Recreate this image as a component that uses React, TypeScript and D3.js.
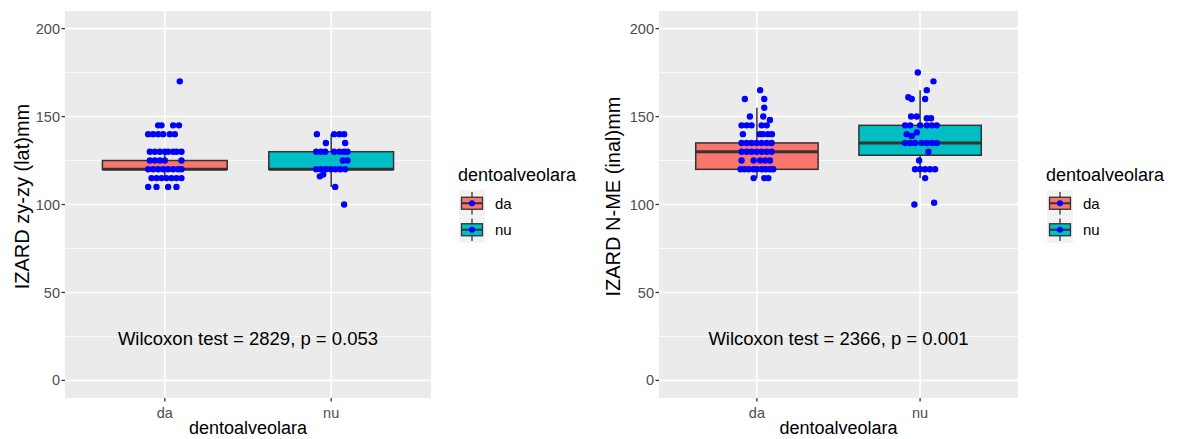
import React, { useEffect, useRef } from 'react';
import * as d3 from 'd3';

const categories = ['da', 'nu'];
const fillColors = ['#F8766D', '#00BFC4'];
const yTicks = [0, 50, 100, 150, 200];
const yMinorTicks = [25, 75, 125, 175];

// box summaries (left: zy-zy, right: N-ME)
const zyLower = [115, 110];
const zyQ1 = [120, 120];
const zyMedian = [120, 120];
const zyQ3 = [125, 130];
const zyUpper = [130, 140];

const nmeLower = [115, 115];
const nmeQ1 = [120, 128];
const nmeMedian = [130, 135];
const nmeQ3 = [135, 145];
const nmeUpper = [155, 165];

// jittered points: [value, horizontal jitter in category units]
const zyDaPoints: [number, number][] = [
  [170, 0.09],
  [145, -0.04], [145, -0.02], [145, 0.05], [145, 0.085],
  [140, -0.1], [140, -0.07], [140, -0.04], [140, -0.01], [140, 0.03], [140, 0.06],
  [130, -0.09], [130, -0.06], [130, -0.03], [130, 0.0], [130, 0.02], [130, 0.05], [130, 0.07], [130, 0.1],
  [125, -0.09], [125, -0.06], [125, -0.03], [125, 0.0], [125, 0.1],
  [120, -0.1], [120, -0.07], [120, -0.04], [120, -0.01], [120, 0.02], [120, 0.05], [120, 0.08], [120, 0.1],
  [115, -0.08], [115, -0.05], [115, -0.02], [115, 0.01], [115, 0.04], [115, 0.07], [115, 0.1],
  [110, -0.1], [110, -0.05], [110, 0.02], [110, 0.07],
];

const zyNuPoints: [number, number][] = [
  [140, -0.086], [140, 0.018], [140, 0.05], [140, 0.078],
  [135, -0.032], [135, 0.084],
  [130, -0.09], [130, -0.062], [130, -0.036], [130, 0.018], [130, 0.05], [130, 0.078], [130, 0.098],
  [125, 0.07], [125, 0.098],
  [120, -0.09], [120, -0.062], [120, -0.032], [120, -0.002], [120, 0.026], [120, 0.054], [120, 0.084],
  [116, -0.068], [117, -0.048],
  [110, 0.024],
  [100, 0.078],
];

const nmeDaPoints: [number, number][] = [
  [165, 0.02], [160, -0.074], [160, 0.045], [155, 0.045],
  [150, -0.043], [150, 0.039], [148, 0.08],
  [145, -0.094], [145, -0.063], [145, -0.033], [145, 0.029], [145, 0.06],
  [140, -0.086], [140, 0.018], [140, 0.037], [140, 0.067], [140, 0.092],
  [135, -0.094], [135, -0.063], [135, -0.033], [135, -0.002], [135, 0.029], [135, 0.06], [135, 0.09],
  [130, -0.094], [130, -0.063], [130, -0.033], [130, -0.002], [130, 0.029], [130, 0.06], [130, 0.09],
  [125, -0.094], [125, -0.02], [125, 0.02], [125, 0.05], [125, 0.08],
  [120, -0.1], [120, -0.075], [120, -0.05], [120, -0.02], [120, 0.0], [120, 0.03], [120, 0.055], [120, 0.08], [120, 0.1],
  [115, -0.02], [115, 0.045], [115, 0.07],
];

const nmeNuPoints: [number, number][] = [
  [175, -0.014], [170, 0.082], [165, 0.041], [161, -0.072], [160, -0.051], [160, 0.031],
  [150, -0.055], [150, -0.02], [149, 0.041], [149, 0.067],
  [145, -0.092], [145, -0.061], [145, 0.0], [145, 0.041], [145, 0.072], [145, 0.102],
  [140, -0.082], [139, -0.051], [141, -0.02],
  [135, -0.092], [135, -0.061], [135, -0.031], [135, 0.01], [135, 0.041], [135, 0.072], [135, 0.102],
  [130, 0.051],
  [125, -0.006],
  [120, -0.031], [120, 0.0], [120, 0.031], [120, 0.061], [120, 0.092],
  [115, 0.031],
  [100, -0.035], [101, 0.086],
];

const yTitles = ['IZARD zy-zy (lat)mm', 'IZARD N-ME (inal)mm'];
const testLabels = ['Wilcoxon test = 2829, p = 0.053', 'Wilcoxon test = 2366, p = 0.001'];
const xTitle = 'dentoalveolara';
const legendTitle = 'dentoalveolara';
const labelValue = 24;

const FONT = '"Liberation Sans", Arial, sans-serif';

export default function App() {
  const svgRef = useRef<SVGSVGElement>(null);

  useEffect(() => {
    if (!svgRef.current) return;
    const svg = d3.select(svgRef.current);
    svg.selectAll('*').remove();

    const panels = [
      {
        left: 65, right: 431, top: 11, bottom: 398, yTitleX: 22, legendX: 458,
        lower: zyLower, q1: zyQ1, median: zyMedian, q3: zyQ3, upper: zyUpper,
        points: [zyDaPoints, zyNuPoints], yTitle: yTitles[0], label: testLabels[0],
      },
      {
        left: 659, right: 1018, top: 11, bottom: 398, yTitleX: 613, legendX: 1046,
        lower: nmeLower, q1: nmeQ1, median: nmeMedian, q3: nmeQ3, upper: nmeUpper,
        points: [nmeDaPoints, nmeNuPoints], yTitle: yTitles[1], label: testLabels[1],
      },
    ];

    panels.forEach(p => {
      const g = svg.append('g');
      const x = d3.scaleLinear().domain([0.4, 2.6]).range([p.left, p.right]);
      const y = d3.scaleLinear().domain([-10, 210]).range([p.bottom, p.top]);

      // panel background
      g.append('rect')
        .attr('x', p.left).attr('y', p.top)
        .attr('width', p.right - p.left).attr('height', p.bottom - p.top)
        .attr('fill', '#EBEBEB');

      // grid lines
      g.selectAll('.minor').data(yMinorTicks).enter().append('line')
        .attr('x1', p.left).attr('x2', p.right)
        .attr('y1', d => y(d)).attr('y2', d => y(d))
        .attr('stroke', '#FFFFFF').attr('stroke-width', 0.8);
      g.selectAll('.major').data(yTicks).enter().append('line')
        .attr('x1', p.left).attr('x2', p.right)
        .attr('y1', d => y(d)).attr('y2', d => y(d))
        .attr('stroke', '#FFFFFF').attr('stroke-width', 1.6);
      g.selectAll('.vmajor').data(categories).enter().append('line')
        .attr('x1', (_, i) => x(i + 1)).attr('x2', (_, i) => x(i + 1))
        .attr('y1', p.top).attr('y2', p.bottom)
        .attr('stroke', '#FFFFFF').attr('stroke-width', 1.6);

      // boxplots
      categories.forEach((c, i) => {
        const cx = x(i + 1);
        const hw = x(1.375) - x(1);
        g.append('line')
          .attr('x1', cx).attr('x2', cx)
          .attr('y1', y(p.q3[i])).attr('y2', y(p.upper[i]))
          .attr('stroke', '#333333').attr('stroke-width', 1.5);
        g.append('line')
          .attr('x1', cx).attr('x2', cx)
          .attr('y1', y(p.q1[i])).attr('y2', y(p.lower[i]))
          .attr('stroke', '#333333').attr('stroke-width', 1.5);
        g.append('rect')
          .attr('x', cx - hw).attr('y', y(p.q3[i]))
          .attr('width', hw * 2).attr('height', y(p.q1[i]) - y(p.q3[i]))
          .attr('fill', fillColors[i])
          .attr('stroke', '#333333').attr('stroke-width', 1.5);
        g.append('line')
          .attr('x1', cx - hw).attr('x2', cx + hw)
          .attr('y1', y(p.median[i])).attr('y2', y(p.median[i]))
          .attr('stroke', '#333333').attr('stroke-width', 3);

        g.selectAll('.pt' + c).data(p.points[i]).enter().append('circle')
          .attr('cx', d => x(i + 1 + d[1]))
          .attr('cy', d => y(d[0]))
          .attr('r', 3.2)
          .attr('fill', '#0000FF');
      });

      // annotation
      g.append('text')
        .attr('x', (p.left + p.right) / 2).attr('y', y(labelValue))
        .attr('dy', '0.35em')
        .attr('text-anchor', 'middle')
        .attr('font-family', FONT).attr('font-size', 18.5)
        .attr('fill', '#000000')
        .text(p.label);

      // y axis
      g.selectAll('.ytick').data(yTicks).enter().append('line')
        .attr('x1', p.left - 3.5).attr('x2', p.left)
        .attr('y1', d => y(d)).attr('y2', d => y(d))
        .attr('stroke', '#333333').attr('stroke-width', 1.3);
      g.selectAll('.ylab').data(yTicks).enter().append('text')
        .attr('x', p.left - 5).attr('y', d => y(d))
        .attr('dy', '0.35em')
        .attr('text-anchor', 'end')
        .attr('font-family', FONT).attr('font-size', 14.5)
        .attr('fill', '#4D4D4D')
        .text(d => d);

      // x axis
      g.selectAll('.xtick').data(categories).enter().append('line')
        .attr('x1', (_, i) => x(i + 1)).attr('x2', (_, i) => x(i + 1))
        .attr('y1', p.bottom).attr('y2', p.bottom + 3.5)
        .attr('stroke', '#333333').attr('stroke-width', 1.3);
      g.selectAll('.xlab').data(categories).enter().append('text')
        .attr('x', (_, i) => x(i + 1)).attr('y', p.bottom + 20)
        .attr('text-anchor', 'middle')
        .attr('font-family', FONT).attr('font-size', 14.5)
        .attr('fill', '#4D4D4D')
        .text(d => d);

      g.append('text')
        .attr('x', (p.left + p.right) / 2).attr('y', 434)
        .attr('text-anchor', 'middle')
        .attr('font-family', FONT).attr('font-size', 18)
        .attr('fill', '#000000')
        .text(xTitle);

      g.append('text')
        .attr('transform', `translate(${p.yTitleX},${(p.top + p.bottom) / 2 - 8}) rotate(-90)`)
        .attr('dy', '0.35em')
        .attr('text-anchor', 'middle')
        .attr('font-family', FONT).attr('font-size', 20)
        .attr('fill', '#000000')
        .text(p.yTitle);

      // legend
      const lg = g.append('g').attr('transform', `translate(${p.legendX},0)`);
      lg.append('text')
        .attr('x', 0).attr('y', 181)
        .attr('font-family', FONT).attr('font-size', 18)
        .attr('fill', '#000000')
        .text(legendTitle);
      const keyH = 26.5;
      const keyTop = 190;
      categories.forEach((c, i) => {
        const ky = keyTop + i * keyH;
        const mid = ky + keyH / 2;
        lg.append('rect')
          .attr('x', 1).attr('y', ky).attr('width', 26).attr('height', keyH)
          .attr('fill', '#F2F2F2');
        lg.append('line')
          .attr('x1', 14).attr('x2', 14).attr('y1', ky + 2).attr('y2', ky + keyH - 2)
          .attr('stroke', '#333333').attr('stroke-width', 1.3);
        lg.append('rect')
          .attr('x', 3.5).attr('y', mid - 6).attr('width', 21).attr('height', 12)
          .attr('fill', fillColors[i])
          .attr('stroke', '#333333').attr('stroke-width', 1.3);
        lg.append('line')
          .attr('x1', 3.5).attr('x2', 24.5).attr('y1', mid).attr('y2', mid)
          .attr('stroke', '#333333').attr('stroke-width', 2);
        lg.append('circle')
          .attr('cx', 14).attr('cy', mid).attr('r', 3)
          .attr('fill', '#0000FF');
        lg.append('text')
          .attr('x', 37).attr('y', mid)
          .attr('dy', '0.35em')
          .attr('font-family', FONT).attr('font-size', 15)
          .attr('fill', '#000000')
          .text(c);
      });
    });
  }, []);

  return (
    <svg
      ref={svgRef}
      width={1179}
      height={439}
      style={{ position: 'absolute', left: 0, top: 0, background: '#FFFFFF' }}
    ></svg>
  );
}
